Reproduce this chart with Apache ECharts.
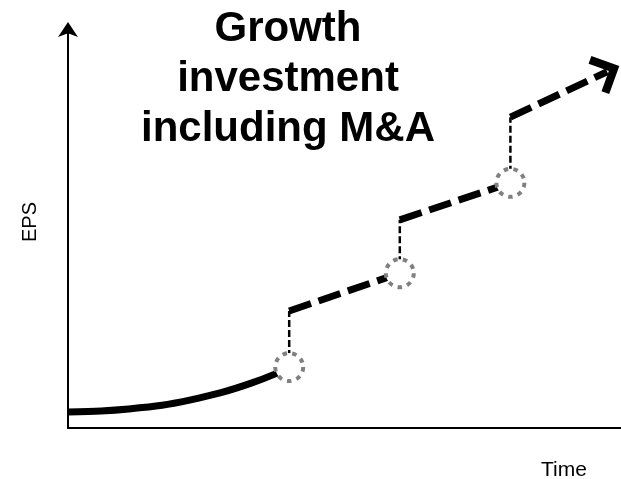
<!DOCTYPE html>
<html>
<head>
<meta charset="utf-8">
<title>EPS growth</title>
<script src="https://cdn.jsdelivr.net/npm/echarts@6/dist/echarts.min.js"></script>
<style>
    html, body { margin: 0; padding: 0; background: #fff; }
    #chart { width: 621px; height: 479px; }
</style>
</head>
<body>
<div id="chart"></div>
<script>
// organic growth curve (time, EPS) in chart units 0..10
const curveX = [0, 0.6, 1.1, 1.7, 2.2, 2.75, 3.3, 3.75, 4];
const curveY = [0.40, 0.43, 0.48, 0.57, 0.70, 0.88, 1.12, 1.36, 1.53];

// M&A points: where each acquisition happens
const dealX = [4, 6, 8];
const dealY = [1.53, 3.89, 6.16];
// EPS right after each acquisition (top of the jump)
const jumpY = [2.94, 5.23, 7.81];
// where the last growth leg ends (arrow)
const arrowEnd = [9.75, 8.95];

const titleLines = ['Growth', 'investment', 'including M&A'];
const FONT = '"Liberation Sans", Arial, sans-serif';

const chart = echarts.init(document.getElementById('chart'));

const curveData = curveX.map((x, i) => [x, curveY[i]]);
const dealData = dealX.map((x, i) => [x, dealY[i]]);

// thin dashed jumps
const jumpSeries = dealX.map((x, i) => ({
    type: 'line',
    data: [[x, dealY[i]], [x, jumpY[i]]],
    showSymbol: false,
    silent: true,
    z: 3,
    lineStyle: { color: '#000', width: 2.5, type: [7, 3] }
}));

// thick dashed legs after each jump, the last one with an open arrow
const legs = dealX.map((x, i) => {
    const last = i === dealX.length - 1;
    const to = last ? arrowEnd : [dealX[i + 1], dealY[i + 1]];
    return [
        { coord: [x, jumpY[i]], symbol: 'none' },
        {
            coord: to,
            symbol: last ? 'path://M20,0 L40,20 L34.5,25.5 L20,11 L5.5,25.5 L0,20 Z' : 'none',
            symbolSize: [42, 27],
            symbolKeepAspect: true
        }
    ];
});

const option = {
    animation: false,
    title: [{
        text: titleLines.join('\n'),
        left: 283,
        top: -1,
        textAlign: 'center',
        textStyle: {
            fontFamily: FONT,
            fontSize: 42,
            fontWeight: 'bold',
            lineHeight: 50,
            color: '#000'
        }
    }, {
        text: 'Time',
        left: 559,
        top: 455,
        textAlign: 'center',
        textStyle: { fontFamily: FONT, fontSize: 21, fontWeight: 'normal', color: '#000' }
    }],
    grid: { left: 68, right: 0, top: 30, bottom: 51 },
    xAxis: {
        type: 'value',
        min: 0,
        max: 10,
        axisLine: { lineStyle: { color: '#000', width: 2 } },
        axisTick: { show: false },
        axisLabel: { show: false },
        splitLine: { show: false }
    },
    yAxis: {
        type: 'value',
        min: 0,
        max: 10,
        name: 'EPS',
        nameLocation: 'middle',
        nameRotate: 90,
        nameGap: 28,
        nameTextStyle: { fontFamily: FONT, fontSize: 20, color: '#000', padding: [0, 0, 0, 14] },
        axisLine: {
            lineStyle: { color: '#000', width: 2 },
            symbol: ['none', 'arrow'],
            symbolSize: [15, 15],
            symbolOffset: [0, 8]
        },
        axisTick: { show: false },
        axisLabel: { show: false },
        splitLine: { show: false }
    },
    series: [{
        name: 'Organic',
        type: 'line',
        smooth: 0.3,
        data: curveData,
        showSymbol: false,
        silent: true,
        z: 3,
        lineStyle: { color: '#000', width: 7 }
    }, {
        name: 'Legs',
        type: 'line',
        data: [],
        silent: true,
        z: 3,
        markLine: {
            silent: true,
            animation: false,
            label: { show: false },
            emphasis: { disabled: true },
            lineStyle: { color: '#000', width: 7, type: [23, 8] },
            itemStyle: { color: '#000' },
            data: legs
        }
    }, ...jumpSeries, {
        name: 'M&A',
        type: 'scatter',
        data: dealData,
        symbol: 'circle',
        symbolSize: 28,
        silent: true,
        z: 10,
        itemStyle: {
            color: '#fff',
            opacity: 1,
            borderColor: '#808080',
            borderWidth: 4,
            borderType: [4.5, 5.3]
        }
    }]
};

chart.setOption(option);
window.addEventListener('resize', () => chart.resize());
</script>
</body>
</html>
